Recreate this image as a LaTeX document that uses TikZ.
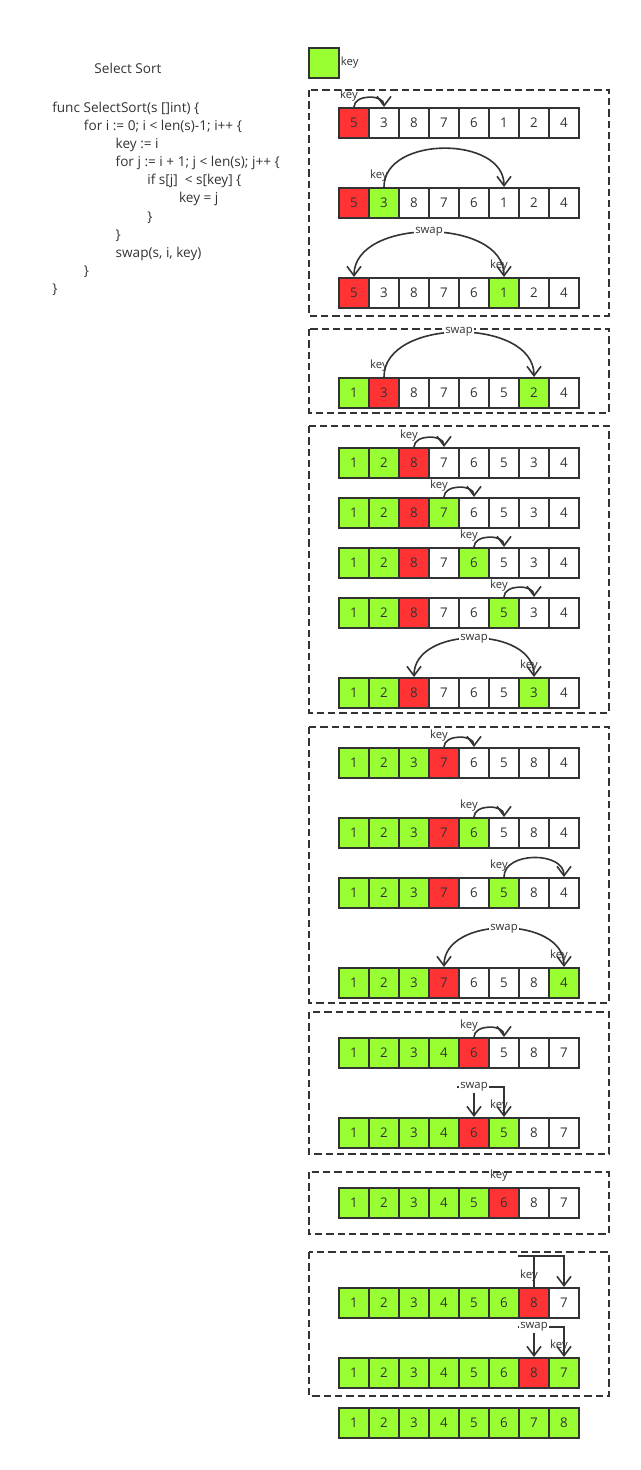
\documentclass[tikz,border=0pt]{standalone}
\usepackage{fontspec}
\setmainfont{Open Sans}
\usetikzlibrary{arrows.meta,positioning,calc}
\definecolor{inkgrey}{HTML}{333333}
\definecolor{R}{HTML}{FF3333}
\definecolor{G}{HTML}{99FF33}
\colorlet{W}{white}

% one row of eight cells: name, centre y, list of value/colour
\newcommand\cellrow[3]{%
  \foreach \val/\col [count=\i from 0] in {#3}
    \node[cell,fill=\col] (#1-\i) at (354+30*\i,#2) {\val};}

\begin{document}
\begin{tikzpicture}[x=0.75pt,y=-0.75pt,>={Straight Barb[length=7pt,width=10.5pt]},
  cell/.style={draw=inkgrey,line width=1.5pt,minimum size=22.5pt,inner sep=0pt,text=inkgrey,font=\fontsize{10}{12}\selectfont},
  lbl/.style={inner sep=0.5pt,text=inkgrey,font=\fontsize{8.5}{10}\selectfont},
  keyat/.style={lbl,xshift=-3.75pt,yshift=8.25pt},
  swaplbl/.style={lbl,fill=white,inner sep=1pt},
  frame/.style={draw=inkgrey,line width=1.5pt,dash pattern=on 5.5pt off 3pt},
  arr/.style={draw=inkgrey,line width=1.2pt,->},
  arr2/.style={draw=inkgrey,line width=1.2pt,<->},
  hop/.style={out=90,in=90,looseness=1.1},
  codeline/.style={anchor=west,inner sep=0pt,text=inkgrey,font=\fontsize{10.2}{12}\selectfont}]
  \useasboundingbox (0,0) rectangle (641,1470);

  % code listing
  \node[codeline,anchor=center] (title) at (128,68) {Select Sort};
  \foreach \lvl/\ln [count=\n] in {0/{func SelectSort(s []int) \{}, 1/{for i := 0; i < len(s)-1; i++ \{},
      2/{key := i}, 2/{for j := i + 1; j < len(s); j++ \{}, 3/{if s[j]\ \ < s[key] \{}, 4/{key = j},
      3/\}, 2/\}, 2/{swap(s, i, key)}, 1/\}, 0/\}}
    \node[codeline] (code\n) at (52+31.7*\lvl,90+18.2*\n) {\ln};

  % legend
  \node[cell,fill=G] (legend) at (324,63) {};
  \node[lbl,right=0pt of legend] (legendkey) {key};

  % frames
  \draw[frame] (309,90) rectangle (609,316);
  \draw[frame] (309,329) rectangle (609,413);
  \draw[frame] (309,426) rectangle (609,713);
  \draw[frame] (309,727) rectangle (609,1003);
  \draw[frame] (309,1012) rectangle (609,1154);
  \draw[frame] (309,1172) rectangle (609,1234);
  \draw[frame] (309,1252) rectangle (609,1396);

  % pass 1
  \cellrow{r1}{123}{5/R,3/W,8/W,7/W,6/W,1/W,2/W,4/W}
  \node[keyat] (k1) at (r1-0.north) {key};
  \draw[arr] (r1-0.north) to[hop] (r1-1.north);
  \cellrow{r2}{203}{5/R,3/G,8/W,7/W,6/W,1/W,2/W,4/W}
  \node[keyat] (k2) at (r2-1.north) {key};
  \draw[arr] (r2-1.north) to[hop] (r2-5.north);
  \cellrow{r3}{293}{5/R,3/W,8/W,7/W,6/W,1/G,2/W,4/W}
  \node[keyat] (k3) at (r3-5.north) {key};
  \draw[arr2] (r3-5.north) to[hop,looseness=1.02] node[swaplbl] (s3) {swap} (r3-0.north);

  % pass 2
  \cellrow{r4}{393}{1/G,3/R,8/W,7/W,6/W,5/W,2/G,4/W}
  \node[keyat] (k4) at (r4-1.north) {key};
  \draw[arr] (r4-1.north) to[hop,looseness=1.02] node[swaplbl] (s4) {swap} (r4-6.north);

  % pass 3
  \cellrow{r5}{463}{1/G,2/G,8/R,7/W,6/W,5/W,3/W,4/W}
  \node[keyat] (k5) at (r5-2.north) {key};
  \draw[arr] (r5-2.north) to[hop] (r5-3.north);
  \cellrow{r6}{513}{1/G,2/G,8/R,7/G,6/W,5/W,3/W,4/W}
  \node[keyat] (k6) at (r6-3.north) {key};
  \draw[arr] (r6-3.north) to[hop] (r6-4.north);
  \cellrow{r7}{563}{1/G,2/G,8/R,7/W,6/G,5/W,3/W,4/W}
  \node[keyat] (k7) at (r7-4.north) {key};
  \draw[arr] (r7-4.north) to[hop] (r7-5.north);
  \cellrow{r8}{613}{1/G,2/G,8/R,7/W,6/W,5/G,3/W,4/W}
  \node[keyat] (k8) at (r8-5.north) {key};
  \draw[arr] (r8-5.north) to[hop] (r8-6.north);
  \cellrow{r9}{693}{1/G,2/G,8/R,7/W,6/W,5/W,3/G,4/W}
  \node[keyat] (k9) at (r9-6.north) {key};
  \draw[arr2] (r9-6.north) to[hop] node[swaplbl] (s9) {swap} (r9-2.north);

  % pass 4
  \cellrow{r10}{763}{1/G,2/G,3/G,7/R,6/W,5/W,8/W,4/W}
  \node[keyat] (k10) at (r10-3.north) {key};
  \draw[arr] (r10-3.north) to[hop] (r10-4.north);
  \cellrow{r11}{833}{1/G,2/G,3/G,7/R,6/G,5/W,8/W,4/W}
  \node[keyat] (k11) at (r11-4.north) {key};
  \draw[arr] (r11-4.north) to[hop] (r11-5.north);
  \cellrow{r12}{893}{1/G,2/G,3/G,7/R,6/W,5/G,8/W,4/W}
  \node[keyat] (k12) at (r12-5.north) {key};
  \draw[arr] (r12-5.north) to[hop] (r12-7.north);
  \cellrow{r13}{983}{1/G,2/G,3/G,7/R,6/W,5/W,8/W,4/G}
  \node[keyat] (k13) at (r13-7.north) {key};
  \draw[arr2] (r13-7.north) to[hop] node[swaplbl] (s13) {swap} (r13-3.north);

  % pass 5
  \cellrow{r14}{1053}{1/G,2/G,3/G,4/G,6/R,5/W,8/W,7/W}
  \node[keyat] (k14) at (r14-4.north) {key};
  \draw[arr] (r14-4.north) to[hop] (r14-5.north);
  \cellrow{r15}{1133}{1/G,2/G,3/G,4/G,6/R,5/G,8/W,7/W}
  \node[keyat] (k15) at (r15-5.north) {key};
  \coordinate (t15) at ([shift={(-17,-30)}]r15-4.north);
  \draw[arr] (t15) -| (r15-5.north);
  \draw[arr] (r15-4.north |- t15) node[swaplbl] (s15) {swap} -- (r15-4.north);

  % pass 6
  \cellrow{r16}{1203}{1/G,2/G,3/G,4/G,5/G,6/R,8/W,7/W}
  \node[keyat] (k16) at (r16-5.north) {key};

  % pass 7
  \cellrow{r17}{1303}{1/G,2/G,3/G,4/G,5/G,6/G,8/R,7/W}
  \coordinate (t17) at ([shift={(-16,-31)}]r17-6.north);
  \draw[arr] (t17) -| (r17-7.north);
  \draw[draw=inkgrey,line width=1.2pt] (r17-6.north |- t17) -- (r17-6.north);
  \node[keyat] (k17) at (r17-6.north) {key};
  \cellrow{r18}{1373}{1/G,2/G,3/G,4/G,5/G,6/G,8/R,7/G}
  \node[keyat] (k18) at (r18-7.north) {key};
  \coordinate (t18) at ([shift={(-16,-30)}]r18-6.north);
  \draw[arr] (t18) -| (r18-7.north);
  \draw[arr] (r18-6.north |- t18) node[swaplbl] (s18) {swap} -- (r18-6.north);

  % result
  \cellrow{r19}{1423}{1/G,2/G,3/G,4/G,5/G,6/G,7/G,8/G}
\end{tikzpicture}
\end{document}
